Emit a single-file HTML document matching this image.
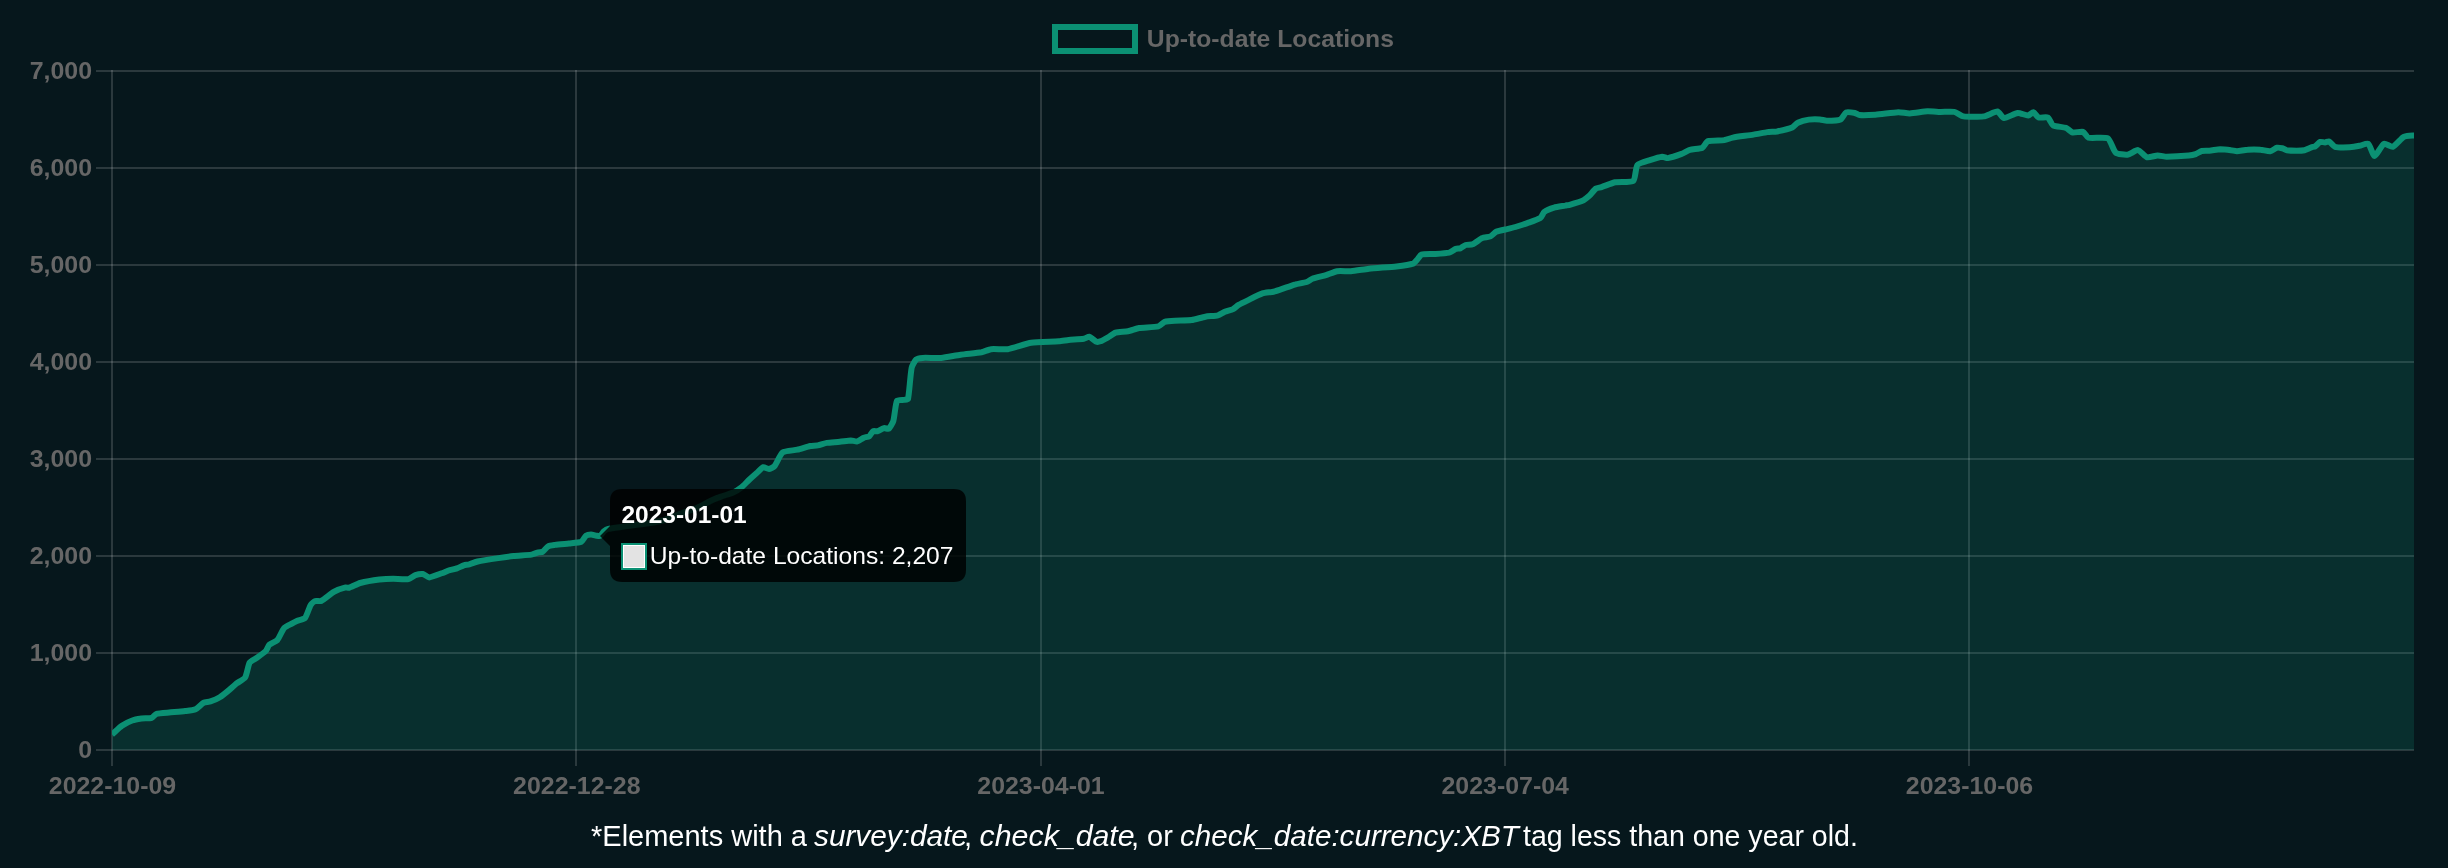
<!DOCTYPE html>
<html><head><meta charset="utf-8">
<style>
html,body{margin:0;padding:0;}
body{width:2448px;height:868px;background:#06171C;overflow:hidden;position:relative;font-family:"Liberation Sans",sans-serif;}
svg{position:absolute;left:0;top:0;will-change:transform;}
.tk{font-family:"Liberation Sans",sans-serif;font-weight:bold;font-size:24px;fill:#666666;}
.foot{will-change:transform;position:absolute;left:0;width:2448px;top:819px;text-align:center;color:#fff;font-size:29px;line-height:34px;white-space:nowrap;}
.foot i{font-style:italic;}
</style></head><body>
<svg width="2448" height="868" viewBox="0 0 2448 868">
<defs>
<clipPath id="ca"><rect x="112" y="60" width="2302" height="690"/></clipPath>
<clipPath id="cl"><rect x="112" y="60" width="2302" height="700"/></clipPath>
</defs>
<rect x="96" y="749" width="2318" height="2" fill="rgba(255,255,255,0.15)"/><rect x="96" y="652" width="2318" height="2" fill="rgba(255,255,255,0.15)"/><rect x="96" y="555" width="2318" height="2" fill="rgba(255,255,255,0.15)"/><rect x="96" y="458" width="2318" height="2" fill="rgba(255,255,255,0.15)"/><rect x="96" y="361" width="2318" height="2" fill="rgba(255,255,255,0.15)"/><rect x="96" y="264" width="2318" height="2" fill="rgba(255,255,255,0.15)"/><rect x="96" y="167" width="2318" height="2" fill="rgba(255,255,255,0.15)"/><rect x="96" y="70" width="2318" height="2" fill="rgba(255,255,255,0.15)"/><rect x="111" y="70" width="2" height="696" fill="rgba(255,255,255,0.15)"/><rect x="575" y="70" width="2" height="696" fill="rgba(255,255,255,0.15)"/><rect x="1040" y="70" width="2" height="696" fill="rgba(255,255,255,0.15)"/><rect x="1504" y="70" width="2" height="696" fill="rgba(255,255,255,0.15)"/><rect x="1968" y="70" width="2" height="696" fill="rgba(255,255,255,0.15)"/>
<path d="M112 734.5 C114 732.8 119.7 727.3 121.9 725.8 C123.8 724.5 130 721.3 132.2 720.5 C134 719.8 139.6 718.8 141.5 718.5 C143.5 718.2 149.9 718.4 151.8 717.8 C152.9 717.5 155.3 714.1 156.4 713.8 C158.7 713.1 166.6 712.7 169.1 712.5 C172.3 712.2 182 711.5 185.2 711.1 C187.3 710.8 193.7 710 195.6 709.2 C197.4 708.4 201.8 703.7 203.6 702.8 C204.8 702.2 209.2 701.9 210.5 701.4 C212.4 700.8 218.1 698.4 219.8 697.3 C221.8 696.1 227.2 691.6 229 690.1 C230.6 688.8 235.3 684.5 237 683.2 C238.6 682 244.1 679.1 245.1 677.5 C246.7 675 248.2 665.1 249.7 662.5 C250.5 661.1 255.3 658.9 256.6 657.9 C258.5 656.6 264.2 652.6 265.8 651 C266.8 650 268.3 645.7 269.3 644.8 C270.6 643.6 276.1 641.4 277.3 640.1 C279.1 638.1 282.4 629.9 284.2 627.9 C285.4 626.6 290.7 624.2 292.3 623.3 C293.2 622.8 296 621.4 296.9 621 C298.5 620.3 304 619.2 305 618 C306.7 616 309.3 607.3 310.7 604.9 C311.3 603.9 314.2 601.4 315.3 601 C316.3 600.6 320.1 601.5 321.1 601 C323.8 599.7 331.1 593.4 333.8 591.9 C336 590.7 343.2 588 345.6 587.4 C346.2 587.2 348.4 588 349 587.8 C351.3 587.1 357.8 583.6 360.1 583 C363.9 582 375.5 580 379.4 579.5 C382.2 579.2 390.5 578.8 393.3 578.8 C396.3 578.8 405.6 579.6 408.5 579.1 C410 578.8 413.9 575.6 415.4 575.1 C416.8 574.6 421.6 573.8 423 574 C424.3 574.2 427.9 577.4 429.2 577.4 C431.6 577.3 439.2 574.2 441.7 573.3 C443.1 572.8 447.2 571 448.6 570.5 C450.2 570 455.3 569 456.9 568.4 C458.3 567.9 462.4 565.8 463.8 565.3 C464.9 565 468.2 564.6 469.3 564.3 C471 563.8 475.9 561.9 477.6 561.5 C481.7 560.6 494.2 558.7 498.3 558.1 C501.4 557.6 510.5 556.3 513.6 556 C517.2 555.6 528 555.1 531.5 554.6 C532.9 554.4 537 552.7 538.4 552.3 C539.2 552.1 541.9 552.2 542.6 551.8 C543.9 551 546.8 547 548.1 546.3 C549.3 545.6 553.6 545.1 555 544.9 C557.8 544.5 566.1 543.8 568.9 543.5 C571.4 543.2 579.2 542.8 581.3 541.8 C582.6 541.2 584.9 536.6 586.1 535.7 C586.9 535.1 590 534.6 591 534.6 C592.1 534.6 595.4 535.5 596.5 535.7 C597.2 535.8 599.5 536.3 600 536 C601 535.4 603.1 532.1 604 531.3 C604.7 530.7 607.2 529.1 608.1 528.9 C611.2 528.2 621 527 624.2 526.5 C629 525.8 643.6 524 648.4 523.2 C651.6 522.7 661.4 520.9 664.5 520 C667.8 519 677.3 514.7 680.6 513.5 C683.8 512.3 693.7 509.2 696.8 507.9 C700.1 506.5 709.6 501.3 712.9 499.8 C714.5 499.1 719.4 497.2 721 496.6 C723.4 495.7 730.8 493.6 733.1 492.6 C734.8 491.8 739.6 488.9 741.1 487.7 C742.9 486.3 747.5 481.3 749.2 479.7 C750.8 478.2 755.7 473.8 757.3 472.4 C758.5 471.3 762 467.6 763.3 467.2 C764.3 466.9 767.7 469.1 768.8 469 C769.9 468.9 773.6 467.2 774.4 466.3 C776.4 463.9 780.3 454.1 782.7 452.4 C784.9 450.8 794.5 450.4 797.4 449.7 C800 449.1 807.7 446.6 810.3 446 C811.7 445.7 816.2 445.7 817.7 445.4 C819.6 445.1 825 443.2 826.9 442.9 C829.4 442.5 837.2 442.1 839.8 441.8 C842 441.6 848.7 440.6 850.9 440.5 C852.2 440.5 856.1 441.7 857.3 441.4 C858.7 441.1 862.4 438.3 863.8 437.7 C864.8 437.3 868.4 436.8 869.3 436.2 C870.3 435.5 872 431.8 873 431.2 C873.7 430.8 876.7 431.4 877.6 431.2 C879 430.8 882.8 428.4 884.1 428.1 C885 427.9 888.1 429.3 888.7 428.8 C889.9 427.9 892.8 422.8 893.3 421.1 C894.5 417.2 895.4 403.9 897 400.8 C897.6 399.7 902.9 400.1 904.3 399.9 C905.1 399.8 907.8 399.7 908 399 C909.3 393.2 910.4 373.7 911.7 367.6 C912.1 365.8 915 360.5 916.3 359.4 C917.2 358.6 921.5 358 922.8 357.9 C926.5 357.7 937.5 358.2 941.2 357.9 C945.1 357.6 956.8 355.2 960.7 354.7 C964.8 354.1 977.4 353 981.5 352.3 C983.5 351.9 989.1 349.4 991.1 349.2 C994.4 348.8 1004.5 349.7 1007.7 349.2 C1012.5 348.4 1026.4 343.4 1031.2 342.7 C1036.6 341.9 1053.4 341.7 1058.9 341.3 C1060.9 341.2 1066.7 340.1 1068.6 339.9 C1071.6 339.6 1080.8 339.3 1083.8 338.8 C1085 338.6 1088.3 336.5 1089.3 336.7 C1090.8 337 1094.7 341 1096.2 341.6 C1096.9 341.9 1099.6 341.6 1100.4 341.3 C1102.1 340.7 1107 337.9 1108.6 337 C1110 336.2 1114.1 333.1 1115.6 332.6 C1117.9 331.9 1125.6 331.7 1128 331.2 C1130.3 330.8 1136.8 328.4 1139.1 328 C1142.9 327.4 1154.7 327.3 1158.4 326.4 C1159.8 326.1 1163.2 322.4 1164.6 321.9 C1166.5 321.3 1172.9 320.9 1175 320.8 C1178.3 320.6 1188.3 320.5 1191.6 320.1 C1194.4 319.7 1202.6 317.2 1205.4 316.7 C1207.9 316.2 1215.5 315.9 1217.9 315.3 C1219.4 314.9 1223.4 312.4 1224.8 311.8 C1226.4 311.1 1231.6 309.9 1233.1 309.1 C1234.3 308.5 1237.4 305.6 1238.6 304.9 C1240.5 303.8 1246.4 301 1248.3 300.1 C1251.1 298.7 1259.5 294.4 1262.4 293.4 C1264.5 292.7 1271.3 292.2 1273.5 291.7 C1276.3 291 1284.5 288 1287.3 287.1 C1289 286.6 1293.9 284.8 1295.6 284.4 C1297.8 283.8 1304.6 282.7 1306.7 282 C1307.9 281.6 1311 279.2 1312.2 278.8 C1314.9 277.8 1323.3 275.9 1326 275.1 C1328.2 274.4 1334.8 271.6 1337.1 271.2 C1339.8 270.8 1348.2 271.4 1350.9 271.2 C1354.5 270.9 1365.3 269.1 1368.9 268.7 C1374.4 268.1 1391 267 1396.5 266.4 C1399.8 266 1410 264.6 1413.1 263.6 C1414.2 263.2 1416.5 260.4 1417.3 259.5 C1418.2 258.6 1420.3 255 1421.4 254.6 C1423.6 253.9 1431.4 254.2 1433.9 254 C1436.9 253.8 1446.2 253.3 1449.1 252.6 C1450.6 252.2 1454.6 249.4 1456 248.8 C1456.8 248.5 1459.4 248.7 1460.1 248.4 C1461.3 247.9 1464.5 245.4 1465.7 245 C1467 244.6 1471.4 244.8 1472.6 244.3 C1474.7 243.4 1480.1 239 1482.2 238.1 C1483.7 237.4 1489 237.1 1490.5 236.4 C1491.8 235.8 1494.8 232.4 1496.1 231.8 C1498.1 230.9 1504.9 229.6 1507.1 229.1 C1508.8 228.7 1513.8 227.5 1515.4 227 C1517.9 226.2 1525.4 223.8 1527.9 222.9 C1530.4 222 1538.2 219.4 1540.3 218 C1541.5 217.2 1543.3 212.7 1544.4 211.8 C1546 210.6 1552.1 208.2 1554.1 207.6 C1556.2 207 1563 206 1565.2 205.6 C1566.1 205.4 1568.8 205.1 1569.7 204.8 C1572.5 204 1580.9 201.4 1583.5 200.2 C1584.7 199.6 1588 197 1589 196.1 C1590.5 194.7 1594.3 189.7 1595.9 188.5 C1596.8 187.9 1600.4 187.5 1601.5 187.1 C1604.3 186.2 1612.5 182.9 1615.3 182.3 C1618.8 181.6 1631 182.7 1633.3 180.9 C1635.4 179.3 1635.6 167.3 1637.4 165 C1638.9 163.1 1647.4 160.9 1649.9 160.1 C1652.3 159.3 1659.8 157 1662.3 156.7 C1663.4 156.6 1666.7 158.3 1667.8 158.1 C1670.6 157.7 1678.9 154.9 1681.6 153.9 C1683.3 153.3 1688.1 150.3 1689.9 149.8 C1692.3 149.1 1700.2 148.7 1702.4 147.7 C1703.8 147 1706.4 141.7 1707.9 141.2 C1710.8 140.2 1721.2 140.6 1724.5 140.1 C1726.2 139.9 1731.1 137.9 1732.8 137.6 C1736.9 136.8 1749.4 135.3 1753.5 134.6 C1756.3 134.2 1764.5 132.5 1767.3 132.1 C1769.2 131.8 1775.1 131.8 1777 131.5 C1780.1 130.9 1789.4 128.8 1792.2 127.6 C1793.5 127 1796.5 123.4 1797.8 122.8 C1799.8 121.8 1806.6 119.9 1808.8 119.6 C1811 119.3 1817.7 119.3 1819.9 119.4 C1821.3 119.5 1825.4 120.7 1826.8 120.7 C1829.5 120.7 1838.2 120.4 1840.6 119.4 C1842.1 118.8 1844.7 113 1846.1 112.4 C1847.5 111.8 1853.2 112.7 1854.9 113 C1855.9 113.2 1858.4 114.9 1859.4 115 C1862.5 115.3 1872.2 114.9 1875.4 114.7 C1880 114.4 1893.7 112.4 1898.3 112.2 C1900.6 112.1 1907.5 113.5 1909.8 113.4 C1913.3 113.3 1924 111.5 1927.5 111.3 C1930 111.2 1937.5 111.8 1940 111.9 C1942.9 112 1951.6 111.4 1954.3 111.9 C1956.3 112.3 1961.5 116.1 1963.5 116.4 C1967.4 117 1979.8 117 1983.7 116.4 C1986.6 116 1995 111.4 1997.5 111.6 C1999.1 111.7 2002.4 118 2004 118.1 C2006.5 118.3 2014.9 113.2 2017.7 112.9 C2019.8 112.7 2026.2 115.6 2028.2 115.5 C2029.3 115.4 2032.5 112 2033.4 112.2 C2034.5 112.4 2037.3 117 2038.6 117.5 C2040.2 118.1 2046.4 116.7 2047.8 117.5 C2049.3 118.3 2051.5 124.4 2053 125.3 C2055.2 126.5 2063.6 127 2066.1 127.9 C2067.6 128.4 2071.1 132.2 2072.6 132.5 C2074.5 132.9 2081.3 131.2 2083.1 131.8 C2084.4 132.2 2086.9 137.3 2088.3 137.7 C2091.8 138.6 2104.9 136.8 2107.9 138.4 C2110.4 139.8 2113.5 150.8 2115.8 152.7 C2117.4 154.1 2125.2 155 2127.5 154.7 C2129.7 154.4 2136.1 149.8 2138 150.1 C2140 150.4 2145.1 156.7 2147.1 157.3 C2149 157.8 2155.5 155.5 2157.6 155.4 C2159.4 155.3 2164.9 156.7 2166.7 156.7 C2171.1 156.7 2184.4 156 2188.8 155.6 C2190.2 155.5 2194.4 154.6 2195.7 154.1 C2196.9 153.7 2200.3 151.3 2201.6 151 C2203.1 150.6 2207.8 150.9 2209.4 150.7 C2211.6 150.5 2218 149.3 2220.2 149.2 C2222.4 149.2 2228.8 149.9 2231 150.2 C2232.2 150.3 2235.7 151.2 2236.9 151.2 C2239 151.1 2245.4 149.8 2247.6 149.7 C2250.1 149.5 2257.9 149.5 2260.4 149.7 C2262.4 149.8 2268.3 151.4 2270.2 151.2 C2271.7 151 2275.7 148.1 2277.1 147.7 C2278 147.5 2281.1 148 2282 148.2 C2283 148.5 2285.9 150 2286.9 150.2 C2288.8 150.5 2294.7 150.7 2296.7 150.7 C2298.3 150.7 2303 150.5 2304.5 150.2 C2305.9 149.9 2310 147.8 2311.4 147.3 C2312.2 147 2314.6 146.7 2315.3 146.3 C2316.4 145.6 2319.1 142.3 2320.2 141.9 C2321 141.6 2324.1 142.5 2325.1 142.4 C2325.9 142.4 2328.3 141.1 2329 141.4 C2330.3 142 2333.4 146.4 2334.9 146.8 C2337.6 147.6 2346.7 147.4 2349.6 147.3 C2351.6 147.2 2357.5 146.2 2359.4 145.8 C2361.2 145.5 2367 143 2368.2 143.8 C2370 145 2373.1 156.1 2374.6 156.1 C2376.3 156.1 2381.6 145 2383.9 143.8 C2385.3 143.1 2391.2 147.3 2392.7 146.8 C2395.1 146 2401.1 138.6 2403.5 137 C2404.5 136.3 2408.2 135.8 2409.4 135.7 C2411.5 135.5 2417.9 135.7 2420 135.7 L2420 750 L112 750 Z" fill="rgba(21,143,118,0.2)" clip-path="url(#ca)"/>
<path d="M112 734.5 C114 732.8 119.7 727.3 121.9 725.8 C123.8 724.5 130 721.3 132.2 720.5 C134 719.8 139.6 718.8 141.5 718.5 C143.5 718.2 149.9 718.4 151.8 717.8 C152.9 717.5 155.3 714.1 156.4 713.8 C158.7 713.1 166.6 712.7 169.1 712.5 C172.3 712.2 182 711.5 185.2 711.1 C187.3 710.8 193.7 710 195.6 709.2 C197.4 708.4 201.8 703.7 203.6 702.8 C204.8 702.2 209.2 701.9 210.5 701.4 C212.4 700.8 218.1 698.4 219.8 697.3 C221.8 696.1 227.2 691.6 229 690.1 C230.6 688.8 235.3 684.5 237 683.2 C238.6 682 244.1 679.1 245.1 677.5 C246.7 675 248.2 665.1 249.7 662.5 C250.5 661.1 255.3 658.9 256.6 657.9 C258.5 656.6 264.2 652.6 265.8 651 C266.8 650 268.3 645.7 269.3 644.8 C270.6 643.6 276.1 641.4 277.3 640.1 C279.1 638.1 282.4 629.9 284.2 627.9 C285.4 626.6 290.7 624.2 292.3 623.3 C293.2 622.8 296 621.4 296.9 621 C298.5 620.3 304 619.2 305 618 C306.7 616 309.3 607.3 310.7 604.9 C311.3 603.9 314.2 601.4 315.3 601 C316.3 600.6 320.1 601.5 321.1 601 C323.8 599.7 331.1 593.4 333.8 591.9 C336 590.7 343.2 588 345.6 587.4 C346.2 587.2 348.4 588 349 587.8 C351.3 587.1 357.8 583.6 360.1 583 C363.9 582 375.5 580 379.4 579.5 C382.2 579.2 390.5 578.8 393.3 578.8 C396.3 578.8 405.6 579.6 408.5 579.1 C410 578.8 413.9 575.6 415.4 575.1 C416.8 574.6 421.6 573.8 423 574 C424.3 574.2 427.9 577.4 429.2 577.4 C431.6 577.3 439.2 574.2 441.7 573.3 C443.1 572.8 447.2 571 448.6 570.5 C450.2 570 455.3 569 456.9 568.4 C458.3 567.9 462.4 565.8 463.8 565.3 C464.9 565 468.2 564.6 469.3 564.3 C471 563.8 475.9 561.9 477.6 561.5 C481.7 560.6 494.2 558.7 498.3 558.1 C501.4 557.6 510.5 556.3 513.6 556 C517.2 555.6 528 555.1 531.5 554.6 C532.9 554.4 537 552.7 538.4 552.3 C539.2 552.1 541.9 552.2 542.6 551.8 C543.9 551 546.8 547 548.1 546.3 C549.3 545.6 553.6 545.1 555 544.9 C557.8 544.5 566.1 543.8 568.9 543.5 C571.4 543.2 579.2 542.8 581.3 541.8 C582.6 541.2 584.9 536.6 586.1 535.7 C586.9 535.1 590 534.6 591 534.6 C592.1 534.6 595.4 535.5 596.5 535.7 C597.2 535.8 599.5 536.3 600 536 C601 535.4 603.1 532.1 604 531.3 C604.7 530.7 607.2 529.1 608.1 528.9 C611.2 528.2 621 527 624.2 526.5 C629 525.8 643.6 524 648.4 523.2 C651.6 522.7 661.4 520.9 664.5 520 C667.8 519 677.3 514.7 680.6 513.5 C683.8 512.3 693.7 509.2 696.8 507.9 C700.1 506.5 709.6 501.3 712.9 499.8 C714.5 499.1 719.4 497.2 721 496.6 C723.4 495.7 730.8 493.6 733.1 492.6 C734.8 491.8 739.6 488.9 741.1 487.7 C742.9 486.3 747.5 481.3 749.2 479.7 C750.8 478.2 755.7 473.8 757.3 472.4 C758.5 471.3 762 467.6 763.3 467.2 C764.3 466.9 767.7 469.1 768.8 469 C769.9 468.9 773.6 467.2 774.4 466.3 C776.4 463.9 780.3 454.1 782.7 452.4 C784.9 450.8 794.5 450.4 797.4 449.7 C800 449.1 807.7 446.6 810.3 446 C811.7 445.7 816.2 445.7 817.7 445.4 C819.6 445.1 825 443.2 826.9 442.9 C829.4 442.5 837.2 442.1 839.8 441.8 C842 441.6 848.7 440.6 850.9 440.5 C852.2 440.5 856.1 441.7 857.3 441.4 C858.7 441.1 862.4 438.3 863.8 437.7 C864.8 437.3 868.4 436.8 869.3 436.2 C870.3 435.5 872 431.8 873 431.2 C873.7 430.8 876.7 431.4 877.6 431.2 C879 430.8 882.8 428.4 884.1 428.1 C885 427.9 888.1 429.3 888.7 428.8 C889.9 427.9 892.8 422.8 893.3 421.1 C894.5 417.2 895.4 403.9 897 400.8 C897.6 399.7 902.9 400.1 904.3 399.9 C905.1 399.8 907.8 399.7 908 399 C909.3 393.2 910.4 373.7 911.7 367.6 C912.1 365.8 915 360.5 916.3 359.4 C917.2 358.6 921.5 358 922.8 357.9 C926.5 357.7 937.5 358.2 941.2 357.9 C945.1 357.6 956.8 355.2 960.7 354.7 C964.8 354.1 977.4 353 981.5 352.3 C983.5 351.9 989.1 349.4 991.1 349.2 C994.4 348.8 1004.5 349.7 1007.7 349.2 C1012.5 348.4 1026.4 343.4 1031.2 342.7 C1036.6 341.9 1053.4 341.7 1058.9 341.3 C1060.9 341.2 1066.7 340.1 1068.6 339.9 C1071.6 339.6 1080.8 339.3 1083.8 338.8 C1085 338.6 1088.3 336.5 1089.3 336.7 C1090.8 337 1094.7 341 1096.2 341.6 C1096.9 341.9 1099.6 341.6 1100.4 341.3 C1102.1 340.7 1107 337.9 1108.6 337 C1110 336.2 1114.1 333.1 1115.6 332.6 C1117.9 331.9 1125.6 331.7 1128 331.2 C1130.3 330.8 1136.8 328.4 1139.1 328 C1142.9 327.4 1154.7 327.3 1158.4 326.4 C1159.8 326.1 1163.2 322.4 1164.6 321.9 C1166.5 321.3 1172.9 320.9 1175 320.8 C1178.3 320.6 1188.3 320.5 1191.6 320.1 C1194.4 319.7 1202.6 317.2 1205.4 316.7 C1207.9 316.2 1215.5 315.9 1217.9 315.3 C1219.4 314.9 1223.4 312.4 1224.8 311.8 C1226.4 311.1 1231.6 309.9 1233.1 309.1 C1234.3 308.5 1237.4 305.6 1238.6 304.9 C1240.5 303.8 1246.4 301 1248.3 300.1 C1251.1 298.7 1259.5 294.4 1262.4 293.4 C1264.5 292.7 1271.3 292.2 1273.5 291.7 C1276.3 291 1284.5 288 1287.3 287.1 C1289 286.6 1293.9 284.8 1295.6 284.4 C1297.8 283.8 1304.6 282.7 1306.7 282 C1307.9 281.6 1311 279.2 1312.2 278.8 C1314.9 277.8 1323.3 275.9 1326 275.1 C1328.2 274.4 1334.8 271.6 1337.1 271.2 C1339.8 270.8 1348.2 271.4 1350.9 271.2 C1354.5 270.9 1365.3 269.1 1368.9 268.7 C1374.4 268.1 1391 267 1396.5 266.4 C1399.8 266 1410 264.6 1413.1 263.6 C1414.2 263.2 1416.5 260.4 1417.3 259.5 C1418.2 258.6 1420.3 255 1421.4 254.6 C1423.6 253.9 1431.4 254.2 1433.9 254 C1436.9 253.8 1446.2 253.3 1449.1 252.6 C1450.6 252.2 1454.6 249.4 1456 248.8 C1456.8 248.5 1459.4 248.7 1460.1 248.4 C1461.3 247.9 1464.5 245.4 1465.7 245 C1467 244.6 1471.4 244.8 1472.6 244.3 C1474.7 243.4 1480.1 239 1482.2 238.1 C1483.7 237.4 1489 237.1 1490.5 236.4 C1491.8 235.8 1494.8 232.4 1496.1 231.8 C1498.1 230.9 1504.9 229.6 1507.1 229.1 C1508.8 228.7 1513.8 227.5 1515.4 227 C1517.9 226.2 1525.4 223.8 1527.9 222.9 C1530.4 222 1538.2 219.4 1540.3 218 C1541.5 217.2 1543.3 212.7 1544.4 211.8 C1546 210.6 1552.1 208.2 1554.1 207.6 C1556.2 207 1563 206 1565.2 205.6 C1566.1 205.4 1568.8 205.1 1569.7 204.8 C1572.5 204 1580.9 201.4 1583.5 200.2 C1584.7 199.6 1588 197 1589 196.1 C1590.5 194.7 1594.3 189.7 1595.9 188.5 C1596.8 187.9 1600.4 187.5 1601.5 187.1 C1604.3 186.2 1612.5 182.9 1615.3 182.3 C1618.8 181.6 1631 182.7 1633.3 180.9 C1635.4 179.3 1635.6 167.3 1637.4 165 C1638.9 163.1 1647.4 160.9 1649.9 160.1 C1652.3 159.3 1659.8 157 1662.3 156.7 C1663.4 156.6 1666.7 158.3 1667.8 158.1 C1670.6 157.7 1678.9 154.9 1681.6 153.9 C1683.3 153.3 1688.1 150.3 1689.9 149.8 C1692.3 149.1 1700.2 148.7 1702.4 147.7 C1703.8 147 1706.4 141.7 1707.9 141.2 C1710.8 140.2 1721.2 140.6 1724.5 140.1 C1726.2 139.9 1731.1 137.9 1732.8 137.6 C1736.9 136.8 1749.4 135.3 1753.5 134.6 C1756.3 134.2 1764.5 132.5 1767.3 132.1 C1769.2 131.8 1775.1 131.8 1777 131.5 C1780.1 130.9 1789.4 128.8 1792.2 127.6 C1793.5 127 1796.5 123.4 1797.8 122.8 C1799.8 121.8 1806.6 119.9 1808.8 119.6 C1811 119.3 1817.7 119.3 1819.9 119.4 C1821.3 119.5 1825.4 120.7 1826.8 120.7 C1829.5 120.7 1838.2 120.4 1840.6 119.4 C1842.1 118.8 1844.7 113 1846.1 112.4 C1847.5 111.8 1853.2 112.7 1854.9 113 C1855.9 113.2 1858.4 114.9 1859.4 115 C1862.5 115.3 1872.2 114.9 1875.4 114.7 C1880 114.4 1893.7 112.4 1898.3 112.2 C1900.6 112.1 1907.5 113.5 1909.8 113.4 C1913.3 113.3 1924 111.5 1927.5 111.3 C1930 111.2 1937.5 111.8 1940 111.9 C1942.9 112 1951.6 111.4 1954.3 111.9 C1956.3 112.3 1961.5 116.1 1963.5 116.4 C1967.4 117 1979.8 117 1983.7 116.4 C1986.6 116 1995 111.4 1997.5 111.6 C1999.1 111.7 2002.4 118 2004 118.1 C2006.5 118.3 2014.9 113.2 2017.7 112.9 C2019.8 112.7 2026.2 115.6 2028.2 115.5 C2029.3 115.4 2032.5 112 2033.4 112.2 C2034.5 112.4 2037.3 117 2038.6 117.5 C2040.2 118.1 2046.4 116.7 2047.8 117.5 C2049.3 118.3 2051.5 124.4 2053 125.3 C2055.2 126.5 2063.6 127 2066.1 127.9 C2067.6 128.4 2071.1 132.2 2072.6 132.5 C2074.5 132.9 2081.3 131.2 2083.1 131.8 C2084.4 132.2 2086.9 137.3 2088.3 137.7 C2091.8 138.6 2104.9 136.8 2107.9 138.4 C2110.4 139.8 2113.5 150.8 2115.8 152.7 C2117.4 154.1 2125.2 155 2127.5 154.7 C2129.7 154.4 2136.1 149.8 2138 150.1 C2140 150.4 2145.1 156.7 2147.1 157.3 C2149 157.8 2155.5 155.5 2157.6 155.4 C2159.4 155.3 2164.9 156.7 2166.7 156.7 C2171.1 156.7 2184.4 156 2188.8 155.6 C2190.2 155.5 2194.4 154.6 2195.7 154.1 C2196.9 153.7 2200.3 151.3 2201.6 151 C2203.1 150.6 2207.8 150.9 2209.4 150.7 C2211.6 150.5 2218 149.3 2220.2 149.2 C2222.4 149.2 2228.8 149.9 2231 150.2 C2232.2 150.3 2235.7 151.2 2236.9 151.2 C2239 151.1 2245.4 149.8 2247.6 149.7 C2250.1 149.5 2257.9 149.5 2260.4 149.7 C2262.4 149.8 2268.3 151.4 2270.2 151.2 C2271.7 151 2275.7 148.1 2277.1 147.7 C2278 147.5 2281.1 148 2282 148.2 C2283 148.5 2285.9 150 2286.9 150.2 C2288.8 150.5 2294.7 150.7 2296.7 150.7 C2298.3 150.7 2303 150.5 2304.5 150.2 C2305.9 149.9 2310 147.8 2311.4 147.3 C2312.2 147 2314.6 146.7 2315.3 146.3 C2316.4 145.6 2319.1 142.3 2320.2 141.9 C2321 141.6 2324.1 142.5 2325.1 142.4 C2325.9 142.4 2328.3 141.1 2329 141.4 C2330.3 142 2333.4 146.4 2334.9 146.8 C2337.6 147.6 2346.7 147.4 2349.6 147.3 C2351.6 147.2 2357.5 146.2 2359.4 145.8 C2361.2 145.5 2367 143 2368.2 143.8 C2370 145 2373.1 156.1 2374.6 156.1 C2376.3 156.1 2381.6 145 2383.9 143.8 C2385.3 143.1 2391.2 147.3 2392.7 146.8 C2395.1 146 2401.1 138.6 2403.5 137 C2404.5 136.3 2408.2 135.8 2409.4 135.7 C2411.5 135.5 2417.9 135.7 2420 135.7" fill="none" stroke="#0B9073" stroke-width="6" stroke-linejoin="round" clip-path="url(#cl)"/>
<text transform="translate(92 757.9) scale(1.038 1)" text-anchor="end" class="tk">0</text><text transform="translate(92 660.9) scale(1.038 1)" text-anchor="end" class="tk">1,000</text><text transform="translate(92 563.9) scale(1.038 1)" text-anchor="end" class="tk">2,000</text><text transform="translate(92 466.9) scale(1.038 1)" text-anchor="end" class="tk">3,000</text><text transform="translate(92 369.9) scale(1.038 1)" text-anchor="end" class="tk">4,000</text><text transform="translate(92 272.9) scale(1.038 1)" text-anchor="end" class="tk">5,000</text><text transform="translate(92 175.9) scale(1.038 1)" text-anchor="end" class="tk">6,000</text><text transform="translate(92 78.9) scale(1.038 1)" text-anchor="end" class="tk">7,000</text>
<text transform="translate(112.5 794) scale(1.038 1)" text-anchor="middle" class="tk">2022-10-09</text><text transform="translate(576.8 794) scale(1.038 1)" text-anchor="middle" class="tk">2022-12-28</text><text transform="translate(1041 794) scale(1.038 1)" text-anchor="middle" class="tk">2023-04-01</text><text transform="translate(1505.2 794) scale(1.038 1)" text-anchor="middle" class="tk">2023-07-04</text><text transform="translate(1969.5 794) scale(1.038 1)" text-anchor="middle" class="tk">2023-10-06</text>
<rect x="1055" y="27" width="80" height="24" fill="none" stroke="#0B9073" stroke-width="6"/>
<text transform="translate(1146.8 47) scale(1.03 1)" class="tk">Up-to-date Locations</text>
<path d="M622 489 H954 Q966 489 966 501 V570 Q966 582 954 582 H622 Q610 582 610 570 V546 L600 536 L610 526 V501 Q610 489 622 489 Z" fill="rgba(0,0,0,0.8)"/>
<text transform="translate(621.5 523) scale(1.02 1)" font-family="Liberation Sans" font-weight="bold" font-size="24" fill="#fff">2023-01-01</text>
<rect x="621" y="543" width="26" height="27" fill="#0B9073"/>
<rect x="623" y="545" width="22" height="23" fill="#fff"/>
<rect x="624" y="546" width="20" height="21" fill="#e3e3e3"/>
<text transform="translate(649.8 564) scale(1.026 1)" font-family="Liberation Sans" font-size="24" fill="#fff">Up-to-date Locations: 2,207</text>
<g font-family="Liberation Sans" font-size="29" fill="#fff">
<text transform="translate(591 846)">*Elements with a</text>
<text transform="translate(814 846) scale(1.027 1)" font-style="italic">survey:date</text>
<text transform="translate(964 846)">,</text>
<text transform="translate(979.6 846) scale(1.046 1)" font-style="italic">check_date</text>
<text transform="translate(1131 846)">, or</text>
<text transform="translate(1180 846) scale(1.021 1)" font-style="italic">check_date:currency:XBT</text>
<text transform="translate(1523 846) scale(0.985 1)">tag less than one year old.</text>
</g>
</svg>
</body></html>
